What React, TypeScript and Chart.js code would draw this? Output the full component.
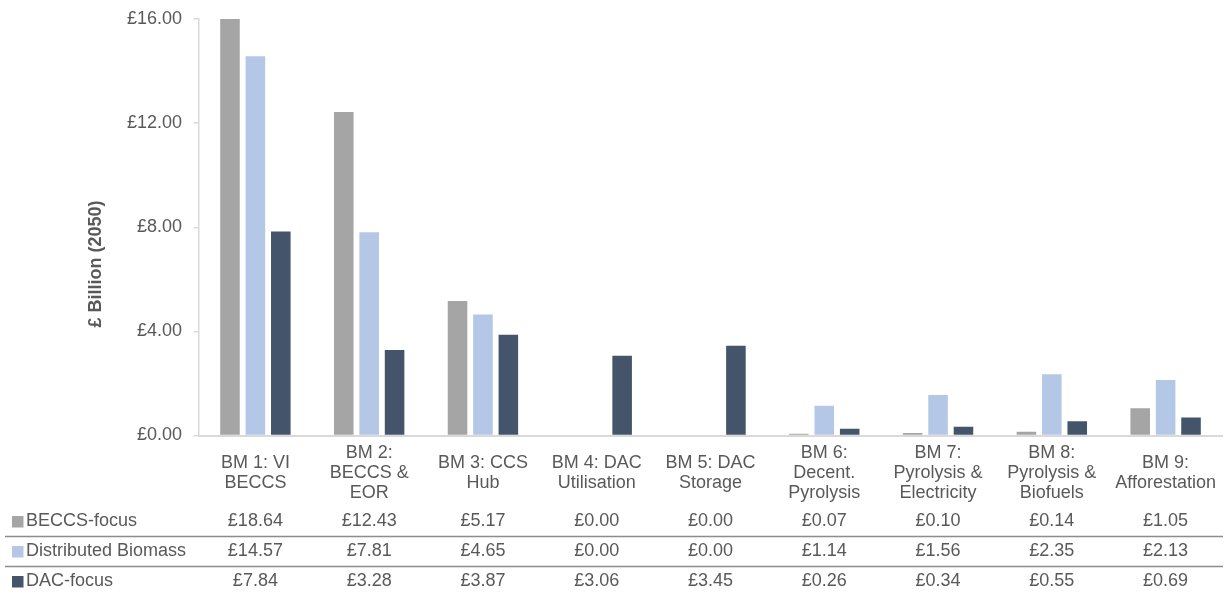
import React, { useEffect, useRef } from "react";
import { Chart, registerables } from "chart.js";

Chart.register(...registerables);

// Business models (x categories), split into label lines
const categories: string[][] = [
  ["BM 1: VI", "BECCS"],
  ["BM 2:", "BECCS &", "EOR"],
  ["BM 3: CCS", "Hub"],
  ["BM 4: DAC", "Utilisation"],
  ["BM 5: DAC", "Storage"],
  ["BM 6:", "Decent.", "Pyrolysis"],
  ["BM 7:", "Pyrolysis &", "Electricity"],
  ["BM 8:", "Pyrolysis &", "Biofuels"],
  ["BM 9:", "Afforestation"],
];

// Scenario values, £ billion (2050)
const beccsFocus = [18.64, 12.43, 5.17, 0.0, 0.0, 0.07, 0.1, 0.14, 1.05];
const distributedBiomass = [14.57, 7.81, 4.65, 0.0, 0.0, 1.14, 1.56, 2.35, 2.13];
const dacFocus = [7.84, 3.28, 3.87, 3.06, 3.45, 0.26, 0.34, 0.55, 0.69];

const seriesNames = ["BECCS-focus", "Distributed Biomass", "DAC-focus"];
const seriesColors = ["#A5A5A5", "#B4C7E7", "#44546A"];

// Y axis
const yMin = 0;
const yMax = 16;
const yStep = 4;
const yTitle = "£ Billion (2050)";

const FONT = "'Liberation Sans', Arial, sans-serif";
const TEXT = "#595959";

const fmt = (v: number) => "£" + v.toFixed(2);

// Draws the y-axis title and the data table beneath the category labels
const tablePlugin = {
  id: "dataTable",
  afterDraw(chart: any) {
    const ctx: CanvasRenderingContext2D = chart.ctx;
    const x = chart.scales.x;
    ctx.save();

    // y-axis title
    ctx.save();
    ctx.translate(96, 264);
    ctx.rotate(-Math.PI / 2);
    ctx.font = `bold 18px ${FONT}`;
    ctx.fillStyle = TEXT;
    ctx.textAlign = "center";
    ctx.textBaseline = "middle";
    ctx.fillText(yTitle, 0, 0);
    ctx.restore();

    const rowY = [521.5, 551.5, 581.5];
    const sepY = [536.5, 566.5];

    // row separators
    ctx.strokeStyle = "#8C8C8C";
    ctx.lineWidth = 1.5;
    sepY.forEach((y) => {
      ctx.beginPath();
      ctx.moveTo(5, y);
      ctx.lineTo(1223, y);
      ctx.stroke();
    });

    ctx.font = `18px ${FONT}`;
    ctx.textBaseline = "middle";
    chart.data.datasets.forEach((ds: any, r: number) => {
      const y = rowY[r];
      // legend key
      ctx.fillStyle = ds.backgroundColor;
      ctx.fillRect(12, y - 5.5, 11.5, 11.5);
      ctx.fillStyle = TEXT;
      ctx.textAlign = "left";
      ctx.fillText(ds.label, 26, y);
      // values
      ctx.textAlign = "center";
      ds.data.forEach((v: number, i: number) => {
        ctx.fillText(fmt(v), x.getPixelForValue(i), y);
      });
    });
    ctx.restore();
  },
};

export default function App() {
  const canvasRef = useRef<HTMLCanvasElement | null>(null);

  useEffect(() => {
    if (!canvasRef.current) return;
    const series = [beccsFocus, distributedBiomass, dacFocus];
    const chart = new Chart(canvasRef.current, {
      type: "bar",
      data: {
        labels: categories,
        datasets: series.map((data, i) => ({
          label: seriesNames[i],
          data,
          backgroundColor: seriesColors[i],
          borderWidth: 0,
          categoryPercentage: 0.67,
          barPercentage: 0.77,
        })),
      },
      options: {
        responsive: false,
        animation: false,
        layout: { padding: { left: 0, right: 4.5, top: 19, bottom: 84 } },
        plugins: {
          legend: { display: false },
          tooltip: { enabled: false },
        },
        scales: {
          x: {
            grid: { display: false, drawTicks: false },
            border: { display: true, color: "#D9D9D9", width: 2 },
            ticks: {
              color: TEXT,
              font: { family: FONT, size: 18, lineHeight: 1.12 },
              padding: 17.5,
              maxRotation: 0,
              autoSkip: false,
              crossAlign: "center",
            },
            afterFit(scale: any) {
              scale.height = 74.5;
              scale.paddingLeft = 0;
              scale.paddingRight = 0;
            },
          },
          y: {
            min: yMin,
            max: yMax,
            grid: {
              drawOnChartArea: false,
              drawTicks: true,
              tickLength: 5,
              color: "#D9D9D9",
              lineWidth: 1.5,
            },
            border: { display: true, color: "#D9D9D9", width: 1.5 },
            ticks: {
              stepSize: yStep,
              color: TEXT,
              font: { family: FONT, size: 18 },
              padding: 11.5,
              callback: (v: any) => fmt(Number(v)),
            },
            afterFit(scale: any) {
              scale.width = 198.5;
              scale.paddingTop = 0;
              scale.paddingBottom = 0;
            },
          },
        },
      },
      plugins: [tablePlugin],
    });
    return () => chart.destroy();
  }, []);

  return (
    <div
      style={{
        position: "fixed",
        left: 0,
        top: 0,
        width: 1227,
        height: 594,
        background: "#ffffff",
      }}
    >
      <canvas ref={canvasRef} width={1227} height={594} style={{ display: "block" }} />
    </div>
  );
}
